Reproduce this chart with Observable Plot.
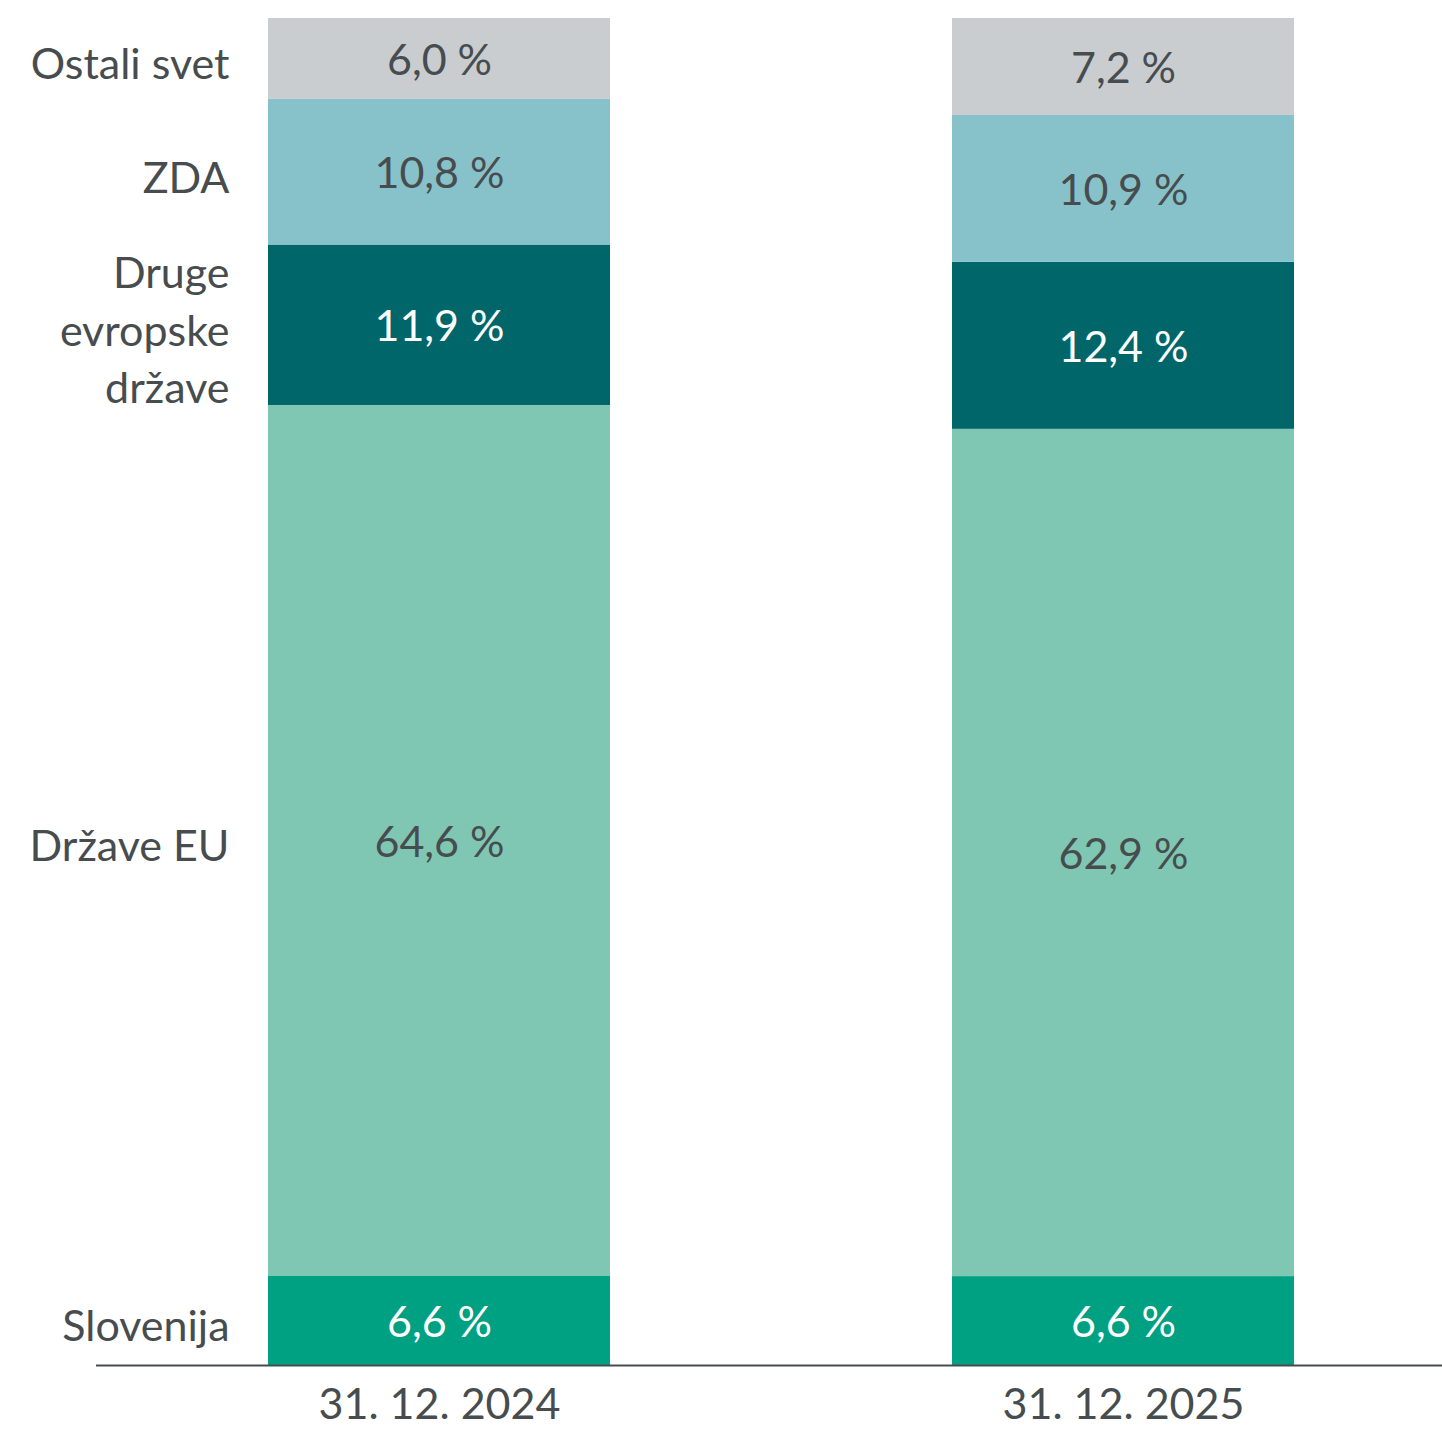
<!DOCTYPE html>
<html>
<head>
<meta charset="utf-8">
<script src="https://cdn.jsdelivr.net/npm/d3@7"></script>
<script src="https://cdn.jsdelivr.net/npm/@observablehq/plot@0.6"></script>
<style>
  html, body { margin: 0; padding: 0; background: #ffffff; }
</style>
</head>
<body>
<div id="chart"></div>
<script>
const dates = ["31. 12. 2024", "31. 12. 2025"];
const regions = ["Slovenija", "Države EU", "Druge\nevropske\ndržave", "ZDA", "Ostali svet"];
const values2024 = [6.6, 64.6, 11.9, 10.8, 6.0];
const values2025 = [6.6, 62.9, 12.4, 10.9, 7.2];
const barColors = ["#00a082", "#7fc7b3", "#00666a", "#87c2ca", "#c9cdd0"];
const labelColors = ["#ffffff", "#474c4e", "#ffffff", "#474c4e", "#474c4e"];

const data = [];
[values2024, values2025].forEach((vals, i) => {
  vals.forEach((v, j) => {
    data.push({date: dates[i], region: regions[j], value: v, idx: j});
  });
});

const fmt = v => v.toFixed(1).replace(".", ",") + " %";
const textColor = "#474c4e";

const chart = Plot.plot({
  width: 1442,
  height: 1432,
  marginTop: 18,
  marginBottom: 67,
  marginLeft: 96,
  marginRight: 0,
  style: {fontFamily: "Lato, 'Open Sans', sans-serif", fontSize: "43px", color: textColor, background: "#ffffff"},
  x: {domain: dates, paddingInner: 0.5, paddingOuter: 0.233, align: 0.536, label: null},
  y: {domain: [0, 1], axis: null},
  color: {type: "identity"},
  marks: [
    Plot.barY(data, Plot.stackY({offset: "normalize", x: "date", y: "value", z: "region", fill: d => barColors[d.idx]})),
    Plot.text(data, Plot.stackY({offset: "normalize", x: "date", y: "value", z: "region",
      text: d => fmt(d.value), fill: d => labelColors[d.idx], fontSize: 43, dy: 2})),
    Plot.text(data, Plot.stackY({offset: "normalize", x: "date", y: "value", z: "region",
      text: d => d.date === dates[0] ? d.region : "", fill: textColor, fontSize: 43,
      textAnchor: "end", dx: -210, dy: 2, lineHeight: 1.33})),
    Plot.ruleY([0], {stroke: "#474c4e", strokeWidth: 2}),
    Plot.axisX({tickSize: 0, tickPadding: 23, fontSize: 43, label: null})
  ]
});
document.getElementById("chart").appendChild(chart);
</script>
</body>
</html>
